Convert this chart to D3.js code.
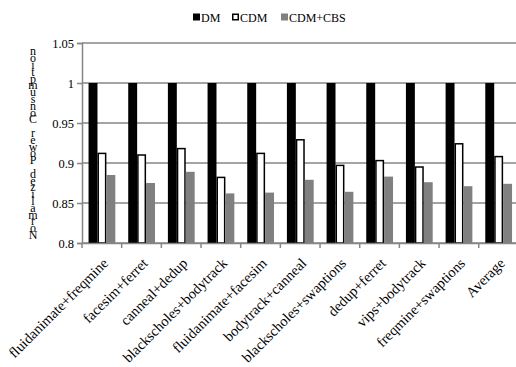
<!DOCTYPE html>
<html><head><meta charset="utf-8">
<script src="https://cdn.jsdelivr.net/npm/d3@7"></script>
<style>
html,body{margin:0;padding:0;background:#fff;}
svg{display:block;}
</style></head>
<body>
<svg id="chart" width="516" height="367"></svg>
<script>
const categories = ["fluidanimate+freqmine","facesim+ferret","canneal+dedup","blackscholes+bodytrack","fluidanimate+facesim","bodytrack+canneal","blackscholes+swaptions","dedup+ferret","vips+bodytrack","freqmine+swaptions","Average"];
const seriesNames = ["DM","CDM","CDM+CBS"];
const dmValues = [1,1,1,1,1,1,1,1,1,1,1];
const cdmValues = [0.912,0.910,0.918,0.882,0.912,0.929,0.897,0.903,0.895,0.924,0.908];
const cbsValues = [0.885,0.875,0.889,0.862,0.863,0.879,0.864,0.883,0.876,0.871,0.874];
const yTicks = [0.8,0.85,0.9,0.95,1,1.05];
const yTitle = "Normalized Power Consumption";

(function(){
const FF = '"Liberation Serif"';
const svg = d3.select("#chart");
const pL = 82, pR = 518.4, pT = 43, pB = 243;
const x = d3.scaleBand().domain(categories).range([pL, pR]).padding(0);
const bw = x.bandwidth();
const xs = d3.scaleBand().domain(seriesNames).range([bw*0.165, bw*0.84]).padding(0);
const y = d3.scaleLinear().domain([0.8,1.05]).range([pB, pT]);
const gridColor = "#868686";
const fills = {"DM":"#000","CDM":"#fff","CDM+CBS":"#808080"};
const valuesBy = {"DM":dmValues,"CDM":cdmValues,"CDM+CBS":cbsValues};

svg.append("g").selectAll("line").data(yTicks).join("line")
  .attr("x1", pL).attr("x2", 516)
  .attr("y1", d=>y(d)).attr("y2", d=>y(d))
  .attr("stroke", gridColor).attr("stroke-width", 1.5);

seriesNames.forEach(s=>{
  const g = svg.append("g");
  g.selectAll("rect").data(categories).join("rect")
    .attr("x", (c)=>x(c)+xs(s) + (s==="CDM"?0.75:0))
    .attr("width", xs.bandwidth() - (s==="CDM"?1.5:0))
    .attr("y", (c,i)=>y(valuesBy[s][i]))
    .attr("height", (c,i)=>pB - y(valuesBy[s][i]))
    .attr("fill", fills[s])
    .attr("stroke", s==="CDM"?"#000":"none")
    .attr("stroke-width", s==="CDM"?1.5:0);
});

const yAxis = d3.axisLeft(y).tickValues(yTicks).tickSize(5).tickPadding(3).tickFormat(d=>String(d));
const ya = svg.append("g").attr("transform",`translate(${pL},0)`).call(yAxis);
ya.attr("font-family", null).attr("font-size", null);
ya.select(".domain").attr("stroke", gridColor).attr("stroke-width",1.5);
ya.selectAll(".tick line").attr("stroke", gridColor).attr("stroke-width",1.5);
ya.selectAll(".tick text").style("font-size","12.5px").style("font-family",FF).attr("fill","#000");

const xAxis = d3.axisBottom(x).tickSize(0).tickFormat("");
const xa = svg.append("g").attr("transform",`translate(0,${pB})`).call(xAxis);
xa.select(".domain").attr("stroke", gridColor).attr("stroke-width",1.5);
xa.selectAll(".sep").data(categories).join("line").attr("class","sep")
  .attr("x1", c=>x(c)).attr("x2", c=>x(c)).attr("y1",0).attr("y2",5)
  .attr("stroke", gridColor).attr("stroke-width",1.5);
svg.append("g").selectAll("text").data(categories).join("text")
  .attr("transform", c=>`translate(${x(c)+bw/2},${pB+14}) rotate(-45)`)
  .attr("text-anchor","end").attr("dy","0.7em")
  .style("font-family",FF).style("font-size","14.5px").text(c=>c);

const yt = svg.append("text").style("font-family",FF).style("font-size","12px").attr("text-anchor","middle");
const chars = Array.from(yTitle);
yt.selectAll("tspan").data(chars).join("tspan")
  .attr("x", 33).attr("y", (d,i)=>239 - i*6.8).text(d=>d===" "?"\u00a0":d);

const legX = [193, 232, 281];
const lg = svg.append("g");
seriesNames.forEach((s,i)=>{
  lg.append("rect").attr("x", legX[i] + (s==="CDM"?0.75:0)).attr("y", 13.5 + (s==="CDM"?0.75:0))
    .attr("width", s==="CDM"?5.5:7).attr("height", s==="CDM"?5.5:7)
    .attr("fill", fills[s]).attr("stroke", s==="CDM"?"#000":"none").attr("stroke-width",1.5);
  lg.append("text").attr("x", legX[i]+8).attr("y", 21.5).style("font-family",FF).style("font-size","12px").text(s);
});
})();
</script>
</body></html>
